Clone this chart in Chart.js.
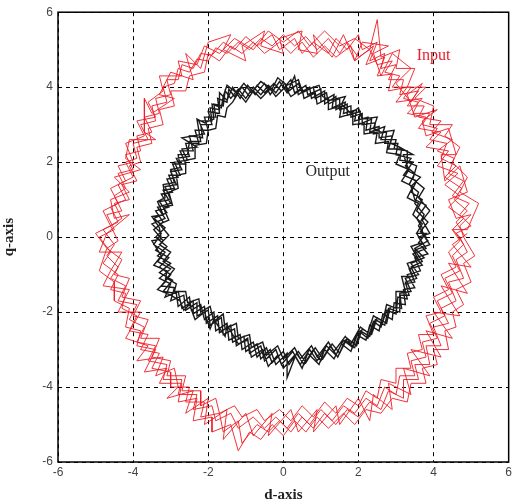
<!DOCTYPE html>
<html>
<head>
<meta charset="utf-8">
<script src="https://cdn.jsdelivr.net/npm/chart.js@4.4.1/dist/chart.umd.min.js"></script>
<style>
  html, body { margin: 0; padding: 0; background: #fff; }
  #wrap { width: 515px; height: 504px; }
</style>
</head>
<body>
<div id="wrap"><canvas id="dq"></canvas></div>
<script>
// Axis ticks (both axes run -6..6)
const tickValues = [-6, -4, -2, 0, 2, 4, 6];

// Input current trajectory in the d-q plane (several noisy turns)
const inputPath = [
  [4.85,0.0],[4.6,0.4],[4.9,0.7],[4.55,1.0],[4.75,1.3],[4.3,1.6],[4.6,1.9],[4.2,2.1],[4.35,2.5],[3.9,2.6],[4.1,2.9],[3.7,3.0],[3.9,3.3],[3.45,3.3],[3.6,3.6],[3.2,3.7],[3.4,4.0],[2.9,4.0],[3.1,4.3],[2.7,4.4],[2.9,4.7],[2.5,4.6],[2.3,5.0],[2.0,4.8],[1.7,5.2],[1.5,4.9],[1.2,5.3],[0.9,5.0],[0.6,5.35],[0.3,5.1],[0.0,5.4],[-0.3,5.1],[-0.6,5.3],[-0.9,5.0],[-1.2,5.2],[-1.5,4.9],[-1.8,5.05],[-2.0,4.7],[-2.3,4.75],[-2.5,4.4],[-2.8,4.5],[-2.9,4.1],[-3.2,4.0],[-3.1,3.6],[-3.5,3.5],[-3.4,3.1],[-3.8,3.0],[-3.6,2.6],[-4.0,2.5],[-3.9,2.1],[-4.2,2.0],[-4.0,1.6],[-4.4,1.4],[-4.2,1.0],[-4.6,0.8],[-4.4,0.4],[-4.8,0.2],[-4.5,-0.2],[-4.7,-0.5],[-4.4,-0.8],[-4.6,-1.1],[-4.2,-1.3],[-4.4,-1.7],[-3.9,-1.8],[-4.1,-2.2],[-3.7,-2.4],[-3.9,-2.8],[-3.4,-2.9],[-3.6,-3.3],[-3.1,-3.4],[-3.2,-3.8],[-2.7,-3.8],[-2.8,-4.2],[-2.3,-4.2],[-2.4,-4.6],[-1.9,-4.5],[-1.8,-4.9],[-1.4,-4.7],[-1.2,-5.1],[-0.8,-4.8],[-0.5,-5.1],[-0.2,-4.8],[0.1,-5.1],[0.4,-4.7],[0.7,-5.0],[1.0,-4.6],[1.3,-4.9],[1.6,-4.5],[1.9,-4.7],[2.2,-4.3],[2.5,-4.5],[2.7,-4.0],[3.0,-4.2],[3.1,-3.7],[3.5,-3.7],[3.4,-3.3],[3.8,-3.2],[3.7,-2.8],[4.1,-2.7],[3.9,-2.3],[4.3,-2.1],[4.1,-1.7],[4.5,-1.5],[4.3,-1.1],[4.7,-0.9],[4.5,-0.5],[4.8,-0.2],
  [4.6,0.1],[5.0,0.3],[4.7,0.6],[4.95,0.9],[4.5,1.1],[4.8,1.5],[4.4,1.7],[4.55,2.1],[4.1,2.3],[4.5,2.6],[3.95,2.8],[4.2,3.1],[3.6,3.2],[3.75,3.5],[3.3,3.5],[3.6,3.9],[3.1,3.8],[3.2,4.2],[2.8,4.2],[3.0,4.6],[2.6,4.5],[2.7,4.9],[2.3,4.7],[2.5,5.2],[2.1,5.0],[2.0,5.4],[1.7,5.0],[1.4,5.3],[1.2,4.9],[0.8,5.2],[0.5,4.9],[0.3,5.3],[-0.1,5.0],[-0.3,5.4],[-0.7,5.1],[-1.0,5.35],[-1.3,5.0],[-1.6,5.2],[-1.9,4.85],[-2.2,4.9],[-2.4,4.5],[-2.7,4.6],[-2.8,4.2],[-3.1,4.2],[-3.0,3.8],[-3.4,3.7],[-3.3,3.3],[-3.7,3.2],[-3.5,2.8],[-3.9,2.7],[-3.8,2.3],[-4.2,2.2],[-4.0,1.8],[-4.4,1.7],[-4.2,1.3],[-4.5,1.1],[-4.3,0.7],[-4.7,0.6],[-4.5,0.2],[-4.9,0.0],[-4.6,-0.4],[-4.8,-0.7],[-4.4,-1.0],[-4.6,-1.4],[-4.2,-1.5],[-4.3,-1.9],[-3.9,-2.1],[-4.1,-2.5],[-3.6,-2.6],[-3.8,-3.0],[-3.3,-3.1],[-3.5,-3.5],[-3.0,-3.6],[-3.0,-4.0],[-2.5,-4.0],[-2.6,-4.4],[-2.1,-4.4],[-2.2,-4.8],[-1.7,-4.7],[-1.6,-5.2],[-1.2,-4.9],[-1.1,-5.5],[-0.7,-5.0],[-0.4,-5.2],[-0.1,-4.9],[0.2,-5.2],[0.5,-4.8],[0.8,-5.1],[1.1,-4.7],[1.4,-5.0],[1.7,-4.6],[2.0,-4.8],[2.3,-4.4],[2.6,-4.6],[2.8,-4.1],[3.2,-4.3],[3.2,-3.8],[3.6,-3.8],[3.5,-3.4],[3.9,-3.4],[3.8,-2.9],[4.2,-2.9],[4.0,-2.4],[4.4,-2.3],[4.2,-1.9],[4.6,-1.7],[4.4,-1.2],[4.8,-1.1],[4.6,-0.6],[4.9,-0.4],[4.7,0.0],
  [4.5,0.2],[4.8,0.5],[4.4,0.8],[4.7,1.1],[4.3,1.4],[4.65,1.7],[4.1,1.9],[4.4,2.3],[3.8,2.4],[4.2,2.8],[3.6,2.9],[3.8,3.2],[3.3,3.3],[3.7,3.7],[3.0,3.6],[3.3,4.0],[2.8,3.9],[2.9,4.35],[2.5,4.3],[2.7,4.8],[2.2,4.6],[2.4,5.1],[1.9,4.7],[1.8,5.1],[1.4,4.8],[1.1,5.1],[0.8,4.8],[0.5,5.2],[0.2,4.9],[-0.1,5.2],[-0.5,4.9],[-0.8,5.2],[-1.1,4.9],[-1.4,5.1],[-1.7,4.7],[-2.0,4.9],[-2.1,4.4],[-2.5,4.3],[-2.6,3.9],[-3.0,3.9],[-2.9,3.5],[-3.3,3.4],[-3.2,3.0],[-3.6,2.9],[-3.5,2.5],[-3.9,2.4],[-3.8,2.0],[-4.1,1.9],[-3.9,1.5],[-4.3,1.4],[-4.1,1.0],[-4.5,0.9],[-4.3,0.5],[-4.6,0.3],[-4.4,-0.1],[-4.7,-0.3],[-4.3,-0.6],[-4.5,-1.0],[-4.1,-1.1],[-4.3,-1.6],[-3.8,-1.7],[-4.0,-2.1],[-3.6,-2.2],[-3.8,-2.7],[-3.3,-2.7],[-3.5,-3.2],[-3.0,-3.3],[-3.1,-3.7],[-2.6,-3.7],[-2.7,-4.1],[-2.2,-4.1],[-2.2,-4.5],[-1.8,-4.3],[-1.7,-4.7],[-1.3,-4.5],[-1.1,-4.8],[-0.7,-4.6],[-0.5,-4.9],[-0.1,-4.6],[0.2,-4.9],[0.5,-4.5],[0.8,-4.8],[1.1,-4.4],[1.4,-4.7],[1.7,-4.3],[2.0,-4.5],[2.2,-4.1],[2.5,-4.3],[2.6,-3.8],[3.0,-3.9],[3.0,-3.5],[3.4,-3.5],[3.3,-3.1],[3.7,-3.0],[3.6,-2.6],[4.0,-2.6],[3.8,-2.1],[4.2,-2.0],[4.0,-1.6],[4.4,-1.4],[4.2,-1.0],[4.6,-0.8],[4.4,-0.4],[4.7,-0.1],[4.5,0.2],
  [4.9,0.2],[5.2,0.9],[4.7,1.2],[4.9,1.6],[4.5,2.0],[4.7,2.4],[4.3,2.7],[4.5,3.0],[3.9,3.0],[4.0,3.5],[3.5,3.7],[3.8,4.0],[3.3,4.0],[3.5,4.5],[3.0,4.5],[3.1,5.0],[2.6,4.8],[2.5,5.8],[2.3,5.0],[1.9,5.3],[1.5,5.1],[1.1,5.5],[0.7,5.1],[0.4,5.5],[0.0,5.2],[-0.4,5.5],[-0.8,5.0],[-1.3,5.3],[-1.7,4.9],[-2.1,5.1],[-2.3,4.6],[-2.8,4.7],[-2.7,4.3],[-3.3,4.3],[-3.2,3.9],[-3.6,3.6],[-3.4,3.2],[-3.9,3.1],[-3.7,2.7],[-4.2,2.5],[-4.0,2.0],[-4.4,1.9],[-4.2,1.5],[-4.6,1.3],[-4.4,0.9],[-4.8,0.7],[-4.6,0.3],[-5.0,0.1],[-4.7,-0.3],[-4.9,-0.9],[-4.5,-1.2],[-4.5,-1.7],[-4.1,-1.9],[-4.2,-2.4],[-3.8,-2.5],[-3.9,-2.9],[-3.4,-3.0],[-3.7,-3.6],[-3.1,-3.5],[-3.3,-3.9],[-2.7,-3.9],[-2.8,-4.4],[-2.3,-4.3],[-2.4,-4.9],[-1.9,-4.8],[-1.9,-5.2],[-1.4,-5.0],[-1.2,-5.7],[-0.9,-5.2],[-0.6,-5.4],[-0.3,-5.0],[0.0,-5.3],[0.3,-4.9],[0.6,-5.2],[0.9,-4.8],[1.2,-5.1],[1.6,-4.7],[1.9,-5.0],[2.2,-4.6],[2.6,-4.7],[2.9,-4.3],[3.3,-4.4],[3.4,-3.9],[3.8,-3.9],[3.7,-3.5],[4.1,-3.4],[4.0,-3.0],[4.4,-3.0],[4.3,-2.5],[4.6,-2.4],[4.5,-2.0],[4.8,-1.8],[4.6,-1.4],[5.0,-1.2],[4.8,-0.7],[5.1,-0.5],[4.8,0.0],
  [4.7,0.3],[5.0,0.6],[4.6,0.5],[4.4,1.0],[4.9,1.2],[4.7,1.9],[4.3,1.5],[4.2,2.2],[4.6,2.2],[4.4,2.9],[3.8,2.7],[3.7,3.1],[4.1,3.4],[3.5,3.2],[3.3,3.8],[3.7,4.1],[3.4,3.6],[3.0,4.1],[3.4,4.5],[2.9,4.9],[2.6,4.3],[2.4,4.9],[2.8,5.1],[2.1,5.2],[1.9,4.7],[1.6,5.4],[1.3,4.8],[0.8,5.4],[0.9,4.9],[0.4,5.0],[0.5,5.5],[-0.1,5.3],[0.0,4.9],[-0.6,5.1],[-0.5,5.5],[-1.1,5.1],[-1.0,4.7],[-1.6,5.0],[-1.4,5.4],[-2.0,5.2],[-2.2,4.5],[-2.6,4.9],[-2.4,4.2],[-3.0,4.4],[-3.3,3.8],[-2.9,3.7],[-3.5,3.3],[-3.7,3.7],[-3.7,2.8],[-3.4,2.6],[-4.1,2.6],[-4.2,2.1],[-3.8,1.8],[-4.5,1.6],[-4.1,1.2],[-4.6,1.0],[-4.5,0.5],[-4.1,0.6],[-4.7,0.1],[-4.9,-0.4],[-4.3,-0.4],[-4.6,-0.9],[-4.8,-1.3],[-4.1,-1.4],[-4.4,-2.0],[-3.8,-2.0],[-4.2,-2.7],[-3.6,-2.9],[-3.9,-3.3],[-3.2,-3.2],[-3.4,-3.7],[-2.9,-3.5],[-2.8,-4.0],[-3.1,-4.3],[-2.4,-4.1],[-2.6,-4.7],[-2.0,-4.3],[-2.1,-5.0],[-1.5,-4.6],[-1.6,-5.4],[-1.0,-4.7],[-0.8,-5.3],[-0.3,-4.7],[-0.4,-5.3],[0.2,-4.6],[0.4,-5.2],[0.9,-4.6],[0.8,-5.2],[1.4,-4.5],[1.5,-5.0],[2.0,-4.3],[2.3,-4.9],[2.4,-4.2],[2.9,-4.6],[2.8,-3.9],[3.4,-4.2],[3.2,-3.5],[3.9,-3.7],[3.4,-3.0],[4.2,-3.2],[3.8,-2.5],[4.5,-2.7],[4.0,-2.0],[4.7,-2.1],[4.2,-1.3],[4.9,-1.5],[4.4,-0.7],[5.0,-0.8],[4.5,-0.2],[4.9,0.1]
];

// Output current trajectory (tighter band, roughly seven-sided)
const outputPath = [
  [3.8,0.0],[3.6,0.3],[3.75,0.6],[3.5,0.9],[3.6,1.2],[3.35,1.4],[3.5,1.7],[3.25,1.9],[3.4,2.1],[3.0,2.2],[3.05,2.5],[2.7,2.5],[2.75,2.8],[2.4,2.75],[2.45,3.05],[2.1,3.0],[2.1,3.3],[1.8,3.2],[1.8,3.5],[1.5,3.4],[1.5,3.7],[1.2,3.55],[1.15,3.85],[0.85,3.7],[0.8,4.0],[0.5,3.85],[0.4,4.1],[0.15,3.9],[0.0,4.15],[-0.2,3.85],[-0.4,4.05],[-0.6,3.8],[-0.8,4.0],[-1.0,3.7],[-1.2,3.95],[-1.4,3.7],[-1.55,3.9],[-1.6,3.5],[-1.85,3.55],[-1.8,3.2],[-2.1,3.2],[-2.0,2.85],[-2.35,2.85],[-2.25,2.5],[-2.6,2.5],[-2.5,2.15],[-2.85,2.1],[-2.7,1.8],[-3.0,1.75],[-2.85,1.4],[-3.15,1.35],[-3.0,1.0],[-3.3,0.95],[-3.1,0.65],[-3.45,0.5],[-3.15,0.25],[-3.4,0.0],[-3.1,-0.25],[-3.35,-0.5],[-3.0,-0.7],[-3.3,-0.95],[-2.95,-1.15],[-3.2,-1.45],[-2.85,-1.5],[-2.8,-1.85],[-2.5,-1.6],[-2.45,-1.95],[-2.2,-1.8],[-2.1,-2.2],[-1.85,-2.0],[-1.8,-2.5],[-1.5,-2.3],[-1.45,-2.75],[-1.15,-2.6],[-1.1,-3.0],[-0.8,-2.8],[-0.7,-3.2],[-0.45,-2.95],[-0.3,-3.35],[0.0,-3.05],[0.15,-3.4],[0.4,-3.05],[0.6,-3.35],[0.85,-2.95],[1.05,-3.25],[1.3,-2.85],[1.5,-3.1],[1.7,-2.7],[1.95,-2.9],[2.1,-2.45],[2.35,-2.6],[2.5,-2.15],[2.75,-2.3],[2.85,-1.85],[3.15,-1.9],[3.1,-1.5],[3.4,-1.45],[3.25,-1.1],[3.6,-1.0],[3.4,-0.7],[3.75,-0.55],[3.5,-0.3],[3.85,-0.1],
  [3.65,0.15],[3.85,0.4],[3.55,0.7],[3.7,1.0],[3.4,1.2],[3.55,1.5],[3.2,1.65],[3.45,2.0],[3.1,2.05],[3.15,2.35],[2.8,2.35],[2.9,2.7],[2.55,2.65],[2.55,2.95],[2.2,2.85],[2.25,3.2],[1.9,3.1],[1.95,3.4],[1.6,3.3],[1.65,3.6],[1.3,3.45],[1.35,3.8],[1.0,3.6],[1.0,3.95],[0.65,3.8],[0.6,4.05],[0.3,3.85],[0.2,4.2],[-0.05,3.9],[-0.25,4.1],[-0.5,3.85],[-0.7,4.05],[-0.9,3.75],[-1.1,4.0],[-1.3,3.75],[-1.45,3.95],[-1.5,3.6],[-1.75,3.7],[-1.7,3.3],[-2.0,3.35],[-1.9,3.0],[-2.2,3.0],[-2.15,2.65],[-2.5,2.7],[-2.4,2.3],[-2.75,2.3],[-2.6,1.95],[-2.95,1.95],[-2.8,1.6],[-3.1,1.55],[-2.95,1.2],[-3.25,1.15],[-3.05,0.8],[-3.4,0.7],[-3.2,0.4],[-3.45,0.2],[-3.2,-0.1],[-3.4,-0.35],[-3.05,-0.55],[-3.3,-0.8],[-3.0,-1.0],[-3.25,-1.3],[-2.9,-1.35],[-3.0,-1.7],[-2.65,-1.55],[-2.6,-1.95],[-2.3,-1.75],[-2.3,-2.1],[-2.0,-1.95],[-1.95,-2.35],[-1.65,-2.15],[-1.6,-2.6],[-1.3,-2.45],[-1.25,-2.9],[-0.95,-2.7],[-0.9,-3.1],[-0.6,-2.9],[-0.5,-3.3],[-0.2,-3.0],[-0.05,-3.4],[0.25,-3.05],[0.45,-3.4],[0.7,-3.0],[0.9,-3.3],[1.15,-2.9],[1.4,-3.15],[1.6,-2.75],[1.85,-2.95],[2.0,-2.5],[2.25,-2.7],[2.4,-2.25],[2.6,-2.4],[2.75,-1.95],[3.0,-2.05],[3.05,-1.6],[3.3,-1.65],[3.2,-1.25],[3.5,-1.2],[3.35,-0.85],[3.7,-0.75],[3.45,-0.45],[3.8,-0.3],[3.6,0.0],
  [3.9,0.1],[3.7,0.45],[3.9,0.7],[3.6,1.05],[3.75,1.3],[3.45,1.55],[3.55,1.9],[3.3,2.0],[3.3,2.3],[2.95,2.35],[3.0,2.6],[2.6,2.6],[2.7,2.95],[2.3,2.8],[2.35,3.15],[2.0,3.0],[2.05,3.35],[1.7,3.25],[1.7,3.55],[1.4,3.4],[1.4,3.75],[1.1,3.55],[1.1,3.9],[0.75,3.7],[0.7,4.0],[0.4,3.8],[0.3,4.3],[0.1,3.85],[-0.1,4.15],[-0.35,3.8],[-0.5,4.1],[-0.75,3.8],[-0.95,4.05],[-1.15,3.7],[-1.35,4.0],[-1.5,3.65],[-1.7,3.85],[-1.7,3.4],[-1.95,3.45],[-1.9,3.1],[-2.25,3.1],[-2.1,2.75],[-2.7,2.65],[-2.3,2.4],[-2.7,2.35],[-2.55,2.05],[-2.9,2.0],[-2.75,1.65],[-3.05,1.65],[-2.9,1.3],[-3.2,1.25],[-3.0,0.9],[-3.35,0.8],[-3.15,0.5],[-3.5,0.35],[-3.25,0.1],[-3.45,-0.2],[-3.15,-0.4],[-3.35,-0.65],[-3.0,-0.85],[-3.3,-1.1],[-3.0,-1.25],[-3.15,-1.6],[-2.8,-1.45],[-2.7,-1.9],[-2.4,-1.7],[-2.4,-2.05],[-2.1,-1.85],[-2.05,-2.3],[-1.75,-2.1],[-1.7,-2.55],[-1.4,-2.35],[-1.35,-2.8],[-1.05,-2.65],[-1.0,-3.05],[-0.7,-2.85],[-0.6,-3.25],[-0.35,-3.0],[-0.2,-3.4],[0.1,-3.1],[0.1,-3.75],[0.35,-3.1],[0.55,-3.4],[0.8,-3.0],[1.0,-3.3],[1.25,-2.9],[1.45,-3.2],[1.65,-2.75],[1.9,-2.95],[2.05,-2.5],[2.3,-2.65],[2.45,-2.2],[2.7,-2.35],[2.8,-1.9],[3.1,-2.0],[3.1,-1.55],[3.35,-1.55],[3.25,-1.2],[3.55,-1.1],[3.4,-0.8],[3.7,-0.65],[3.5,-0.35],[3.9,-0.2],[3.7,0.1],
  [3.7,0.25],[3.55,0.5],[3.8,0.85],[3.5,1.0],[3.4,1.35],[3.65,1.6],[3.35,1.75],[3.2,2.2],[3.45,2.2],[3.0,2.45],[2.85,2.5],[2.95,2.85],[2.6,2.8],[2.4,2.9],[2.5,3.2],[2.1,3.15],[2.0,3.45],[1.8,3.3],[1.55,3.55],[1.65,3.75],[1.25,3.65],[1.05,3.75],[0.95,4.05],[0.65,3.95],[0.5,3.9],[0.4,4.2],[0.1,4.05],[-0.15,4.25],[-0.3,3.95],[-0.6,4.15],[-0.85,3.85],[-1.05,4.1],[-1.25,3.85],[-1.5,4.05],[-1.6,3.75],[-1.65,3.45],[-1.9,3.55],[-1.85,3.15],[-2.1,3.05],[-2.3,3.15],[-2.2,2.55],[-2.5,2.55],[-2.55,2.2],[-2.8,2.2],[-2.75,1.85],[-3.0,1.8],[-2.9,1.45],[-3.2,1.4],[-3.15,1.05],[-3.35,0.95],[-3.2,0.6],[-3.5,0.55],[-3.3,0.25],[-3.25,-0.05],[-3.5,-0.1],[-3.25,-0.5],[-3.45,-0.75],[-3.1,-0.9],[-3.15,-1.2],[-3.35,-1.4],[-3.0,-1.55],[-2.75,-1.7],[-2.65,-1.95],[-2.5,-1.8],[-2.35,-2.2],[-2.1,-2.0],[-1.95,-2.45],[-1.85,-2.2],[-1.55,-2.65],[-1.5,-2.35],[-1.2,-2.85],[-0.95,-2.75],[-0.85,-3.2],[-0.55,-3.0],[-0.4,-3.45],[-0.15,-3.15],[0.0,-3.5],[0.3,-3.15],[0.5,-3.5],[0.65,-3.1],[0.95,-3.4],[1.1,-3.0],[1.35,-3.25],[1.55,-2.85],[1.8,-3.05],[1.95,-2.6],[2.2,-2.75],[2.3,-2.35],[2.55,-2.5],[2.65,-2.05],[2.9,-2.2],[2.95,-1.75],[3.25,-1.8],[3.2,-1.4],[3.5,-1.35],[3.3,-1.0],[3.65,-0.9],[3.5,-0.55],[3.85,-0.45],[3.6,-0.15],[3.8,0.1],
  [3.55,0.1],[3.7,0.35],[3.45,0.6],[3.6,0.9],[3.3,1.05],[3.45,1.35],[3.15,1.5],[3.35,1.8],[3.0,1.95],[3.1,2.2],[2.75,2.25],[2.8,2.55],[2.45,2.5],[2.5,2.8],[2.15,2.75],[2.15,3.05],[1.85,3.0],[1.85,3.3],[1.5,3.2],[1.55,3.5],[1.2,3.4],[1.2,3.7],[0.9,3.55],[0.85,3.85],[0.55,3.7],[0.5,3.95],[0.2,3.75],[0.05,4.0],[-0.2,3.75],[-0.35,3.95],[-0.6,3.7],[-0.8,3.9],[-1.0,3.6],[-1.2,3.85],[-1.35,3.6],[-1.5,3.45],[-1.55,3.2],[-1.75,3.25],[-1.8,2.9],[-2.0,2.85],[-2.05,2.5],[-2.35,2.45],[-2.35,2.1],[-2.6,2.05],[-2.6,1.7],[-2.85,1.65],[-2.8,1.3],[-3.05,1.2],[-2.95,0.85],[-3.2,0.8],[-3.05,0.45],[-3.3,0.35],[-3.05,0.05],[-3.3,-0.2],[-3.0,-0.4],[-3.2,-0.65],[-2.9,-0.85],[-3.1,-1.1],[-2.85,-1.25],[-2.9,-1.45],[-2.6,-1.45],[-2.55,-1.75],[-2.25,-1.65],[-2.2,-2.0],[-1.95,-1.85],[-1.85,-2.25],[-1.6,-2.05],[-1.55,-2.45],[-1.25,-2.3],[-1.2,-2.7],[-0.9,-2.6],[-0.85,-2.95],[-0.55,-2.8],[-0.45,-3.15],[-0.15,-2.9],[0.0,-3.25],[0.3,-2.95],[0.45,-3.25],[0.75,-2.9],[0.9,-3.2],[1.2,-2.8],[1.35,-3.05],[1.65,-2.65],[1.8,-2.85],[2.05,-2.4],[2.25,-2.55],[2.4,-2.1],[2.65,-2.25],[2.75,-1.8],[3.0,-1.9],[3.0,-1.45],[3.25,-1.45],[3.15,-1.05],[3.45,-1.05],[3.3,-0.7],[3.6,-0.6],[3.4,-0.25],[3.7,-0.15],[3.55,0.1]
];

// Text labels placed in data coordinates
const labels = [
  { text: 'Input', d: 4.0, q: 4.85, color: '#e8202a' },
  { text: 'Output', d: 1.18, q: 1.75, color: '#2a2a2a' }
];

const toPoints = (path) => path.map(p => ({ x: p[0], y: p[1] }));

// Frame around plot area + the two curve labels
const framePlugin = {
  id: 'frame',
  afterDraw(chart) {
    const { ctx, chartArea, scales } = chart;
    ctx.save();
    ctx.strokeStyle = '#000';
    ctx.lineWidth = 1.5;
    ctx.setLineDash([]);
    ctx.strokeRect(chartArea.left, chartArea.top, chartArea.right - chartArea.left, chartArea.bottom - chartArea.top);
    ctx.font = '16px "Liberation Serif", "Times New Roman", serif';
    ctx.textAlign = 'center';
    ctx.textBaseline = 'middle';
    labels.forEach(l => {
      ctx.fillStyle = l.color;
      ctx.fillText(l.text, scales.x.getPixelForValue(l.d), scales.y.getPixelForValue(l.q));
    });
    ctx.restore();
  }
};

const gridStyle = {
  color: '#000',
  lineWidth: 1,
  drawTicks: false
};

const tickFont = { family: '"Liberation Sans", Arial, sans-serif', size: 12 };
const titleFont = { family: '"Liberation Serif", "Times New Roman", serif', size: 15, weight: 'bold' };

new Chart(document.getElementById('dq').getContext('2d'), {
  type: 'scatter',
  data: {
    datasets: [
      {
        label: 'Input',
        data: toPoints(inputPath),
        showLine: true,
        borderColor: '#ee1c25',
        borderWidth: 0.9,
        pointRadius: 0,
        tension: 0
      },
      {
        label: 'Output',
        data: toPoints(outputPath),
        showLine: true,
        borderColor: '#1a1a1a',
        borderWidth: 1.4,
        pointRadius: 0,
        tension: 0
      }
    ]
  },
  options: {
    responsive: true,
    maintainAspectRatio: false,
    animation: false,
    layout: { padding: { top: 12, right: 4, left: 0, bottom: 0 } },
    plugins: {
      legend: { display: false },
      tooltip: { enabled: false }
    },
    scales: {
      x: {
        type: 'linear',
        min: -6,
        max: 6,
        afterBuildTicks: (scale) => { scale.ticks = tickValues.map(v => ({ value: v })); },
        afterFit: (scale) => { scale.height = 42; },
        grid: gridStyle,
        border: { display: false, dash: [4, 4] },
        ticks: { font: tickFont, color: '#444', padding: 3, maxRotation: 0 },
        title: { display: true, text: 'd-axis', font: titleFont, color: '#222', padding: { top: 2, bottom: 0 } }
      },
      y: {
        type: 'linear',
        min: -6,
        max: 6,
        afterBuildTicks: (scale) => { scale.ticks = tickValues.map(v => ({ value: v })); },
        afterFit: (scale) => { scale.width = 58; },
        grid: gridStyle,
        border: { display: false, dash: [4, 4] },
        ticks: { font: tickFont, color: '#444', padding: 5 },
        title: { display: true, text: 'q-axis', font: titleFont, color: '#222', padding: { top: 0, bottom: 0 } }
      }
    }
  },
  plugins: [framePlugin]
});
</script>
</body>
</html>
